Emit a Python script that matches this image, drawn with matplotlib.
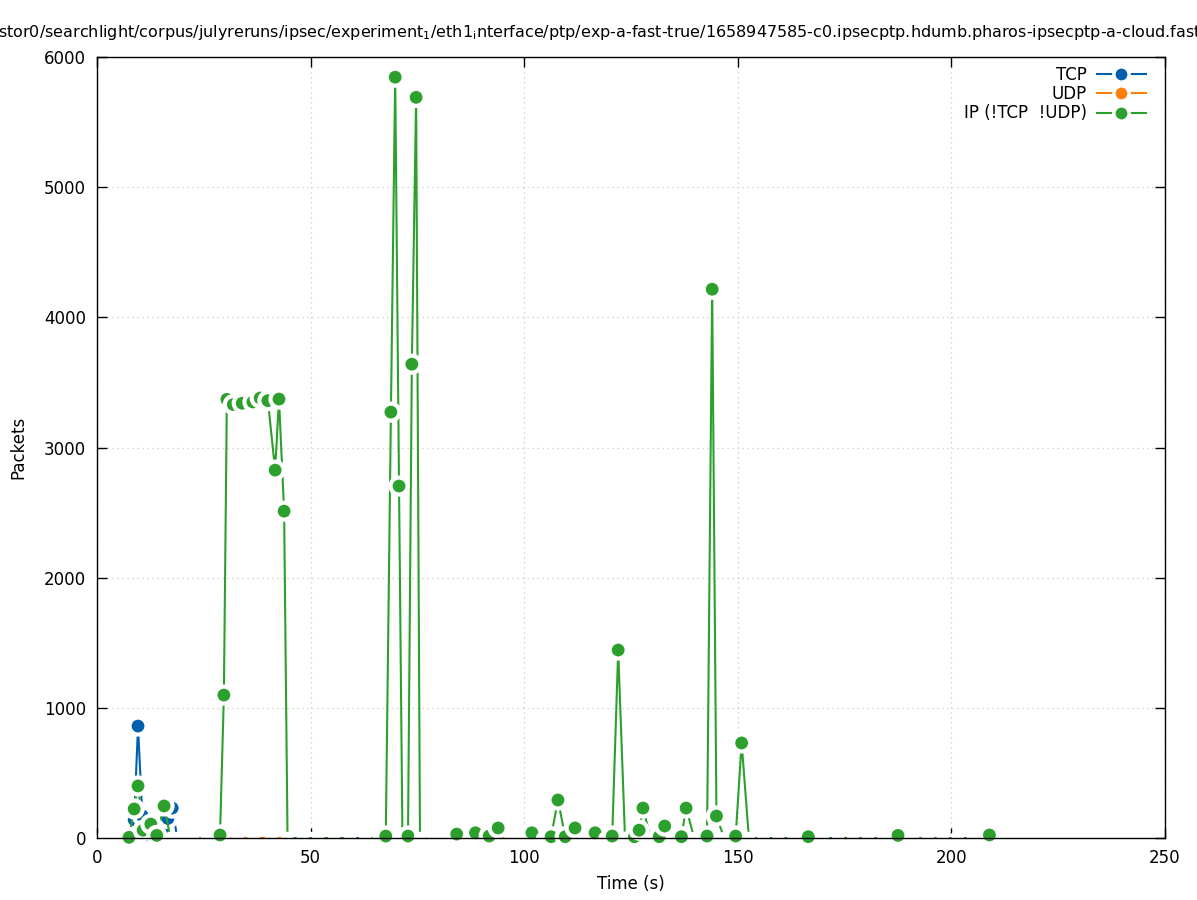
import matplotlib
matplotlib.use("Agg")
import matplotlib.pyplot as plt
from matplotlib.lines import Line2D

plt.rcParams['font.family'] = ['DejaVu Sans']
plt.rcParams['mathtext.default'] = 'regular'

# TCP
tcp_t = [1.2, 3.6, 5.6, 7.5, 8.7, 9.6, 10.6, 11.6, 12.6, 14.0, 15.2, 16.6, 17.6, 18.8,
         22.0, 26.0, 30.0, 34.0, 38.0, 42.0, 46.0, 50.0, 54.0, 58.0, 62.0, 66.0, 70.0,
         74.0, 78.0, 82.0, 86.0, 90.0, 94.0, 98.0, 102.0, 106.0, 110.0, 114.0, 118.0,
         122.0, 126.0, 130.0, 134.0, 138.0, 142.0, 146.0, 150.0, 154.0, 158.0, 162.0,
         166.0, 170.0, 174.0, 178.0, 182.0, 186.0, 190.0, 194.0, 198.0, 202.0, 206.0, 208.9]
tcp_v = [0, 0, 0, 0, 140, 860, 170, 60, 20, 0, 60, 150, 230, 0,
         0, 0, 0, 0, 0, 0, 0, 0, 0, 0, 0, 0, 0,
         0, 0, 0, 0, 0, 0, 0, 0, 0, 0, 0, 0,
         0, 0, 0, 0, 0, 0, 0, 0, 0, 0, 0,
         0, 0, 0, 0, 0, 0, 0, 0, 0, 0, 0, 0]

# UDP
udp_t = [1.5, 5.5, 9.5, 13.5, 17.5, 21.5, 25.5, 29.0, 32.9, 36.6, 40.8, 45.0, 49.0,
         53.0, 57.0, 61.0, 65.0, 69.0, 73.0, 77.0, 81.0, 85.0, 89.0, 93.0, 97.0, 101.0,
         105.0, 109.0, 113.0, 117.0, 121.0, 125.0, 129.0, 133.0, 137.0, 141.0, 145.0,
         149.0, 153.0, 157.0, 161.0, 165.0, 169.0, 173.0, 177.0, 181.0, 185.0, 189.0,
         193.0, 197.0, 201.0, 205.0, 208.9]
udp_v = [0, 0, 0, 0, 0, 0, 0, 0, 0, 0, 0, 0, 0,
         0, 0, 0, 0, 0, 0, 0, 0, 0, 0, 0, 0, 0,
         0, 0, 0, 0, 0, 0, 0, 0, 0, 0, 0,
         0, 0, 0, 0, 0, 0, 0, 0, 0, 0, 0,
         0, 0, 0, 0, 0]

# IP (!TCP && !UDP)
ip_t = [1.2, 3.6, 5.6, 7.5, 8.7, 9.6, 10.8, 12.6, 14.0, 15.7,
        17.2, 19.8, 22.5, 25.8, 28.8, 29.7, 30.4, 31.9, 34.0, 36.5,
        38.2, 40.0, 41.7, 42.6, 43.8, 44.6, 48.2, 51.8, 55.5, 59.2,
        62.8, 66.0, 67.6, 68.8, 69.8, 70.7, 71.5, 72.8, 73.7, 74.7,
        75.6, 78.6, 81.5, 84.2, 87.0, 88.6, 91.8, 93.9, 96.8, 99.5,
        101.8, 104.2, 106.3, 107.9, 109.6, 111.9, 114.2, 116.6, 118.8, 120.6,
        122.0, 123.6, 125.8, 126.9, 127.8, 129.6, 131.6, 132.9, 134.8, 136.8,
        137.9, 139.8, 142.8, 144.0, 145.0, 146.8, 149.5, 150.9, 152.6, 156.0,
        159.5, 163.0, 166.5, 170.0, 173.5, 177.0, 180.5, 184.0, 187.5, 191.0,
        194.5, 198.0, 201.5, 205.0, 208.9]
ip_v = [0, 0, 0, 5, 223, 400, 60, 107, 20, 246,
        0, 0, 0, 0, 23, 1098, 3370, 3330, 3340, 3350,
        3380, 3360, 2826, 3372, 2511, 0, 0, 0, 0, 0,
        0, 0, 15, 3272, 5845, 2704, 0, 15, 3640, 5690,
        0, 0, 0, 30, 0, 40, 15, 77, 0, 0,
        40, 0, 10, 292, 10, 77, 0, 40, 0, 15,
        1444, 0, 10, 60, 230, 0, 10, 92, 0, 10,
        230, 0, 15, 4216, 169, 0, 15, 730, 0, 0,
        0, 0, 10, 0, 0, 0, 0, 0, 20, 0,
        0, 0, 0, 0, 23]

series = [("TCP", tcp_t, tcp_v, "#0060ad"),
          ("UDP", udp_t, udp_v, "#ff7f0e"),
          ("IP (!TCP  !UDP)", ip_t, ip_v, "#2ca02c")]

fig = plt.figure(figsize=(11.97, 9.0), dpi=100)
ax = fig.add_axes([97/1197, 1-838/900, (1165-97)/1197, (838-57)/900])

z = 2.0
handles = []
for name, t, v, col in series:
    ax.plot(t, v, color=col, lw=1.5, zorder=z, clip_on=False)
    faces = [col if val > 0 else "white" for val in v]
    sizes = [150 if val > 0 else 36 for val in v]
    ax.scatter(t, v, s=sizes, c=faces, edgecolors="white", linewidths=3.0,
               zorder=z + 0.05, clip_on=False)
    z += 0.1
    handles.append(Line2D([], [], color=col, lw=1.5, marker="o", markersize=11,
                          markerfacecolor=col, markeredgecolor="white",
                          markeredgewidth=2.5))

ax.set_xlim(0, 250)
ax.set_ylim(0, 6000)
ax.set_xticks([0, 50, 100, 150, 200, 250])
ax.set_yticks([0, 1000, 2000, 3000, 4000, 5000, 6000])
ax.tick_params(direction="in", length=7, width=1, top=True, right=True,
               labelsize=12, pad=8)
ax.grid(True, color="#c8c8c8", linestyle=(0, (1, 3)), lw=0.9)
ax.set_axisbelow(True)
for sp in ax.spines.values():
    sp.set_linewidth(1)
    sp.set_zorder(3)

ax.set_xlabel("Time (s)", fontsize=12, labelpad=6)
ax.set_ylabel("Packets", fontsize=12, labelpad=12)

leg = ax.legend(handles, [s[0] for s in series], loc="upper right",
                bbox_to_anchor=(0.9958, 1.008), frameon=False, markerfirst=False,
                fontsize=12, handlelength=2.9, handletextpad=0.6,
                labelspacing=0.08)

title = ("stor0/searchlight/corpus/julyreruns/ipsec/experiment$_1$/eth1$_{i}$nterface"
         "/ptp/exp-a-fast-true/1658947585-c0.ipsecptp.hdumb.pharos-ipsecptp-a-cloud.fast"
         "-true.pdf")
fig.text(-0.002, 1 - 32/900, title, fontsize=11.5, ha="left", va="center")

fig.savefig("out.png", dpi=100)
